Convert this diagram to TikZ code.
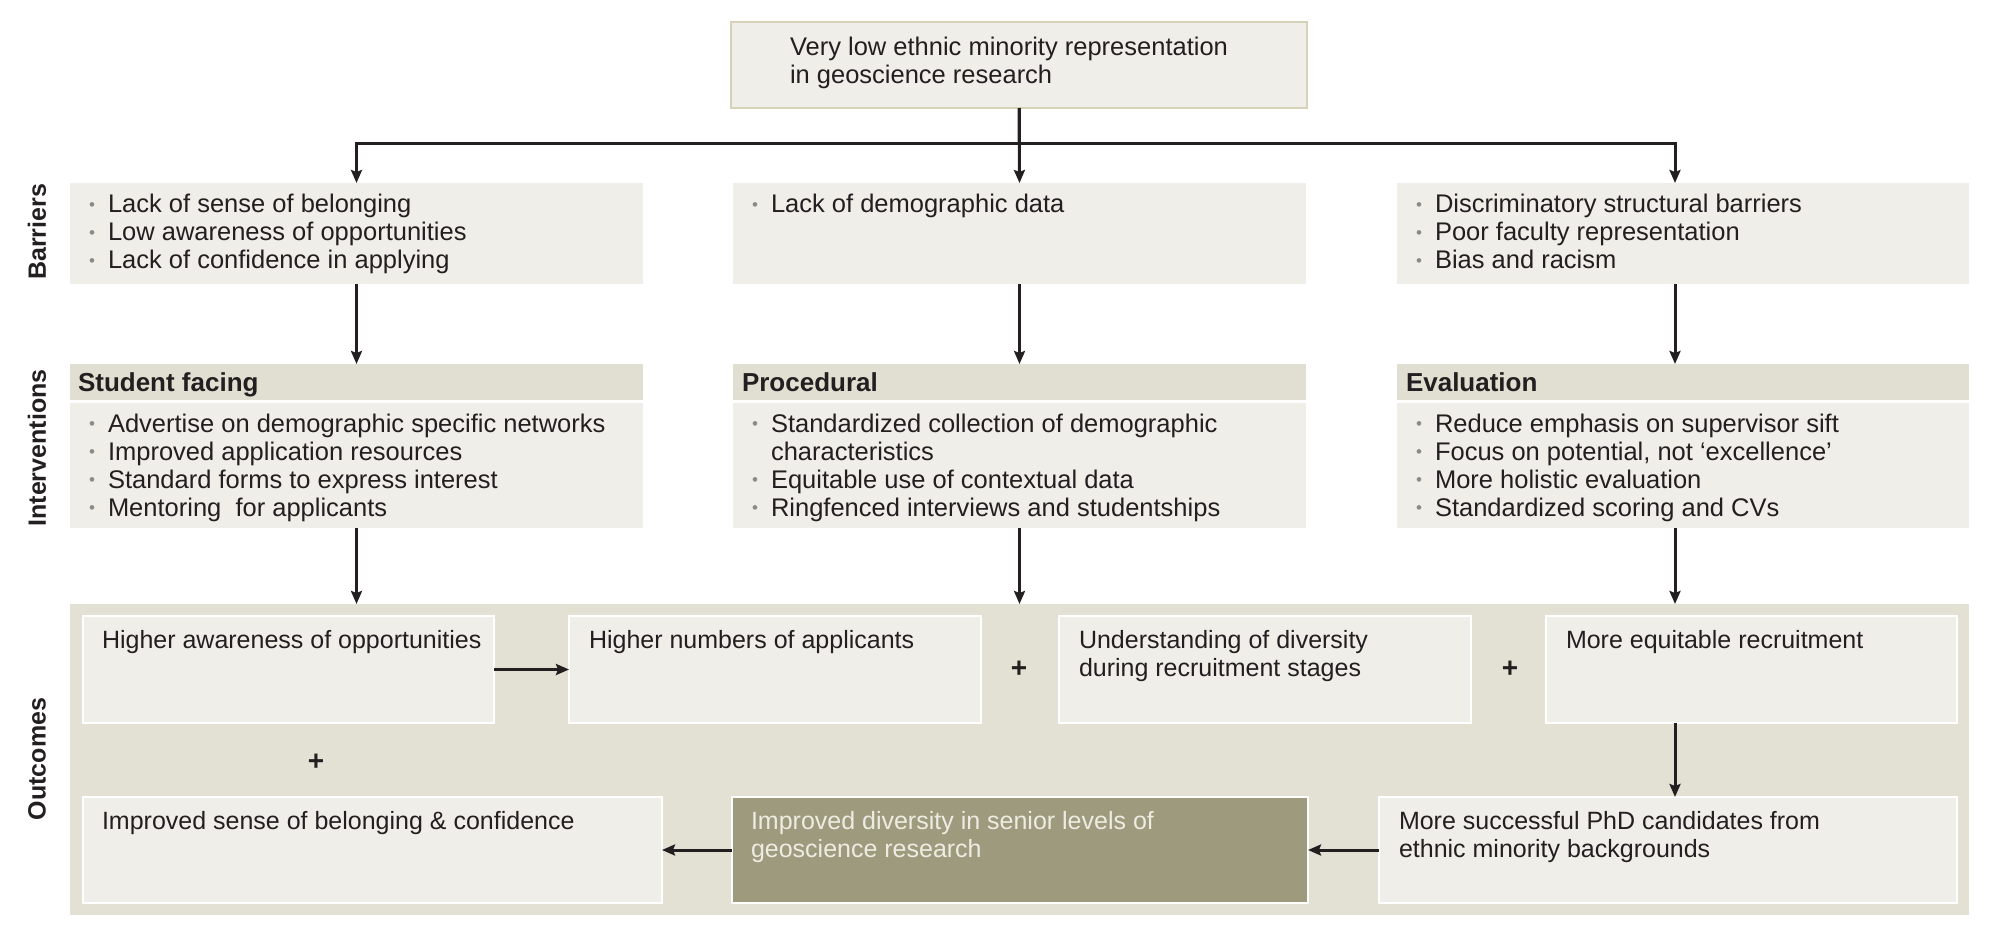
\documentclass[tikz,border=0pt]{standalone}
\usepackage{fontspec}
\setmainfont{Liberation Sans}
\usetikzlibrary{arrows.meta}
\definecolor{ink}{HTML}{231F20}
\definecolor{boxfill}{HTML}{EFEEE8}
\definecolor{hdrfill}{HTML}{E1DFD2}
\definecolor{panelfill}{HTML}{E3E1D4}
\definecolor{darkfill}{HTML}{9E9A7D}
\definecolor{darktext}{HTML}{EEECE2}
\definecolor{topborder}{HTML}{D6D2B8}
\definecolor{bulgray}{HTML}{8A8A88}
\newcommand{\bul}{\makebox[19pt][l]{\textcolor{bulgray}{\fontsize{17}{17}\selectfont\raisebox{2.5pt}{\textbullet}}}}
\newcommand{\cont}{\makebox[19pt][l]{}}
\newcommand{\lns}[1]{\begin{tabular}[t]{@{}l@{}}#1\end{tabular}}
\tikzset{
  box/.style={fill=boxfill, draw=none, inner sep=0pt, outer sep=0pt, anchor=north west},
  topbox/.style={box, draw=topborder, line width=1.5pt},
  hdr/.style={fill=hdrfill, draw=none, inner sep=0pt, outer sep=0pt, anchor=north west},
  panel/.style={fill=panelfill, draw=none, inner sep=0pt, outer sep=0pt, anchor=north west},
  obox/.style={fill=boxfill, draw=white, line width=2.5pt, inner sep=0pt, outer sep=0pt, anchor=north west},
  dbox/.style={fill=darkfill, draw=white, line width=2.5pt, inner sep=0pt, outer sep=0pt, anchor=north west},
  txt/.style={anchor=base west, inner sep=0pt, outer sep=0pt, text=ink, font=\fontsize{25.5}{28}\selectfont},
  otxt/.style={txt, font=\fontsize{25}{28}\selectfont},
  htxt/.style={anchor=base west, inner sep=0pt, outer sep=0pt, text=ink, font=\fontsize{26}{28}\selectfont\bfseries},
  side/.style={rotate=90, inner sep=0pt, text=ink, font=\fontsize{25}{28}\selectfont\bfseries},
  plus/.style={inner sep=0pt, text=ink, font=\fontsize{28}{28}\selectfont\bfseries},
  ln/.style={draw=ink, line width=3pt},
  arr/.style={draw=ink, line width=3pt, -{Stealth[length=13pt,width=11pt,inset=2pt]}},
}
\begin{document}
\begin{tikzpicture}[x=1pt,y=-1pt]
\useasboundingbox (0,0) rectangle (2000,944);

% top box
\node[topbox, minimum width=576pt, minimum height=86pt] (top) at (731,22) {};
\node[txt] (toptxt) at (790,56) {\lns{Very low ethnic minority representation\\in geoscience research}};

% side labels
\node[side] (lbar) at (37,232) {Barriers};
\node[side] (lint) at (37,448) {Interventions};
\node[side] (lout) at (37,759) {Outcomes};

% barriers
\node[box, minimum width=573pt, minimum height=101pt] (b1) at (70,183) {};
\node[box, minimum width=573pt, minimum height=101pt] (b2) at (733,183) {};
\node[box, minimum width=572pt, minimum height=101pt] (b3) at (1397,183) {};
\node[txt] (b1t) at (89,213) {\lns{\bul Lack of sense of belonging\\\bul Low awareness of opportunities\\\bul Lack of confidence in applying}};
\node[txt] (b2t) at (752,213) {\lns{\bul Lack of demographic data}};
\node[txt] (b3t) at (1416,213) {\lns{\bul Discriminatory structural barriers\\\bul Poor faculty representation\\\bul Bias and racism}};

% intervention headers
\node[hdr, minimum width=573pt, minimum height=36pt] (h1) at (70,364) {};
\node[hdr, minimum width=573pt, minimum height=36pt] (h2) at (733,364) {};
\node[hdr, minimum width=572pt, minimum height=36pt] (h3) at (1397,364) {};
\node[htxt] (h1t) at (78,391) {Student facing};
\node[htxt] (h2t) at (742,391) {Procedural};
\node[htxt] (h3t) at (1406,391) {Evaluation};

% intervention bodies
\node[box, minimum width=573pt, minimum height=125pt] (i1) at (70,403) {};
\node[box, minimum width=573pt, minimum height=125pt] (i2) at (733,403) {};
\node[box, minimum width=572pt, minimum height=125pt] (i3) at (1397,403) {};
\node[txt] (i1t) at (89,432) {\lns{\bul Advertise on demographic specific networks\\\bul Improved application resources\\\bul Standard forms to express interest\\\bul Mentoring~ for applicants}};
\node[txt] (i2t) at (752,432) {\lns{\bul Standardized collection of demographic\\\cont characteristics\\\bul Equitable use of contextual data\\\bul Ringfenced interviews and studentships}};
\node[txt] (i3t) at (1416,432) {\lns{\bul Reduce emphasis on supervisor sift\\\bul Focus on potential, not ‘excellence’\\\bul More holistic evaluation\\\bul Standardized scoring and CVs}};

% outcomes panel
\node[panel, minimum width=1899pt, minimum height=311pt] (panel) at (70,604) {};
\node[obox, minimum width=411pt, minimum height=107pt] (o1) at (83,616) {};
\node[obox, minimum width=412pt, minimum height=107pt] (o2) at (569,616) {};
\node[obox, minimum width=412pt, minimum height=107pt] (o3) at (1059,616) {};
\node[obox, minimum width=411pt, minimum height=107pt] (o4) at (1546,616) {};
\node[obox, minimum width=579pt, minimum height=106pt] (o5) at (83,797) {};
\node[dbox, minimum width=576pt, minimum height=106pt] (o6) at (732,797) {};
\node[obox, minimum width=578pt, minimum height=106pt] (o7) at (1379,797) {};
\node[otxt] (o1t) at (102,648) {Higher awareness of opportunities};
\node[otxt] (o2t) at (589,648) {Higher numbers of applicants};
\node[otxt] (o3t) at (1079,648) {\lns{Understanding of diversity\\during recruitment stages}};
\node[otxt] (o4t) at (1566,648) {More equitable recruitment};
\node[otxt] (o5t) at (102,829) {Improved sense of belonging \& confidence};
\node[otxt, text=darktext] (o6t) at (751,829) {\lns{Improved diversity in senior levels of\\geoscience research}};
\node[otxt] (o7t) at (1399,829) {\lns{More successful PhD candidates from\\ethnic minority backgrounds}};

\node[plus] (p1) at (1019,669) {+};
\node[plus] (p2) at (1510,669) {+};
\node[plus] (p3) at (316,762) {+};

% connectors
\coordinate (hl) at (0,144);
\coordinate (colR) at (1675,0);
\draw[ln] (top.south) -- (top.south |- hl);
\draw[arr] (top.south |- hl) -| (b1.north);
\draw[arr] (top.south |- hl) -| (colR |- b3.north);
\draw[arr] (top.south) -- (b2.north);

\draw[arr] (b1.south) -- (h1.north);
\draw[arr] (b2.south) -- (h2.north);
\draw[arr] (colR |- b3.south) -- (colR |- h3.north);

\draw[arr] (i1.south) -- (i1.south |- panel.north);
\draw[arr] (i2.south) -- (i2.south |- panel.north);
\draw[arr] (colR |- i3.south) -- (colR |- panel.north);

\draw[arr] (o1.east) -- (o2.west);
\draw[arr] (colR |- o4.south) -- (colR |- o7.north);
\draw[arr] (o7.west) -- (o6.east);
\draw[arr] (o6.west) -- (o5.east);
\end{tikzpicture}
\end{document}
